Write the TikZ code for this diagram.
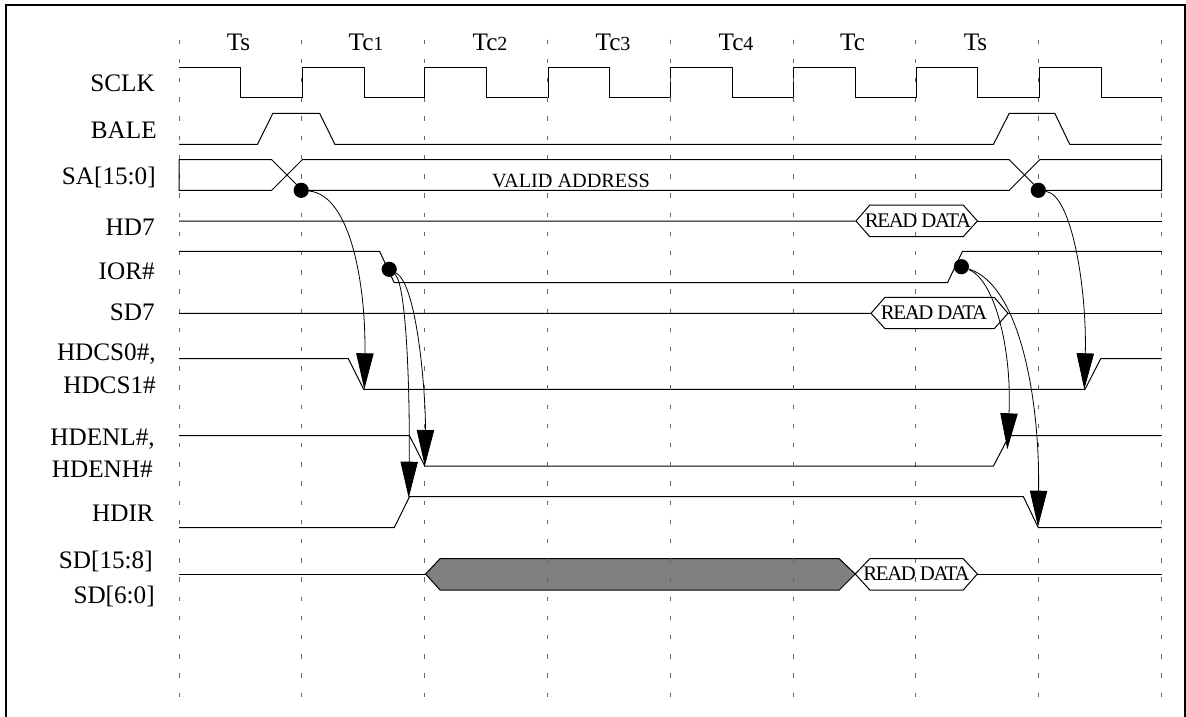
\documentclass[tikz,border=0pt]{standalone}
\usepackage{fontspec}
\setmainfont{Liberation Serif}
\usetikzlibrary{arrows.meta}
\tikzset{
  sig/.style={draw=black,line width=0.75pt,line join=miter},
  grid/.style={draw=black!60,line width=0.75pt,dash pattern=on 3.3pt off 11.1pt},
  dot/.style={circle,fill=black,inner sep=0pt,minimum size=11.4pt},
  lab/.style={anchor=base east,inner sep=0pt,font=\fontsize{18.9pt}{20pt}\selectfont},
  top/.style={anchor=base,inner sep=0pt,font=\fontsize{18.9pt}{20pt}\selectfont},
  data/.style={anchor=center,inner sep=0pt,font=\fontsize{15.2pt}{16pt}\selectfont},
  rd/.style={anchor=center,inner sep=0pt,font=\fontsize{15.6pt}{16pt}\selectfont\addfontfeature{LetterSpace=-6.5}},
  cur/.style={draw=black,line width=0.6pt,-{Triangle[length=27pt,width=13pt]}},
}
\newcommand{\sm}[1]{{\fontsize{15pt}{16pt}\selectfont #1}}
\begin{document}
\begin{tikzpicture}[x=0.75pt,y=-0.75pt]
\useasboundingbox (0,0) rectangle (1186,717);
% border
\draw[line width=1.5pt] (6,800) -- (6,5) -- (1185,5) -- (1185,800);
% time grid
\foreach \i in {0,...,8}
  \draw[grid] ({179+122.8*\i},39.7) -- ({179+122.8*\i},698);
% SCLK
\draw[sig] (179,67.3) -- (240.6,67.3) -- (240.6,98) -- (302.3,98) -- (302.3,67.3) -- (364,67.3) -- (364,98) -- (424.8,98) -- (424.8,67.3) -- (486.8,67.3) -- (486.8,98) -- (548,98) -- (548,67.3) -- (609.3,67.3) -- (609.3,98) -- (670.6,98) -- (670.6,67.3) -- (732.3,67.3) -- (732.3,98) -- (793.2,98) -- (793.2,67.3) -- (855.6,67.3) -- (855.6,98) -- (916.9,98) -- (916.9,67.3) -- (977.4,67.3) -- (977.4,98) -- (1039.8,98) -- (1039.8,67.3) -- (1101,67.3) -- (1101,98) -- (1161.7,98);
% BALE
\draw[sig] (179,144.3) -- (257.5,144.3) -- (272.9,113.3) -- (319.6,113.3) -- (334.9,144.3) -- (993.5,144.3) -- (1009.2,113.3) -- (1054.8,113.3) -- (1069.7,144.3) -- (1161.7,144.3);
% SA
\draw[sig] (179,190.3) -- (271.7,190.3) -- (302.3,159.7) -- (1009.2,159.7) -- (1039.8,190.3) -- (1161.7,190.3) -- (1161.7,159.7) -- (1039.8,159.7) -- (1009.2,190.3) -- (302.3,190.3) -- (271.7,159.7) -- (179,159.7) -- cycle;
% HD7
\draw[sig] (179,221) -- (856,221) -- (869.8,205) -- (963.2,205) -- (977.4,221) -- (963.2,236.7) -- (869.8,236.7) -- (856,221);
\draw[sig] (977.4,221) -- (1161.7,221);
% IOR
\draw[sig] (179,251.3) -- (379.6,251.3) -- (394.2,282.7) -- (947.5,282.7) -- (962.5,251.3) -- (1161.7,251.3);
% SD7
\draw[sig] (179,313.3) -- (871,313.3) -- (885,297.3) -- (994.2,297.3) -- (1008,313.3) -- (994.2,328.7) -- (885,328.7) -- (871,313.3);
\draw[sig] (1008,313.3) -- (1161.7,313.3);
% HDCS
\draw[sig] (179,358.7) -- (348.3,358.7) -- (363.6,389.3) -- (1085,389.3) -- (1100.7,358.7) -- (1161.7,358.7);
% HDEN
\draw[sig] (179,435.7) -- (409.5,435.7) -- (424.8,466) -- (993.5,466) -- (1009.2,435.7) -- (1161.7,435.7);
% HDIR
\draw[sig] (179,527.7) -- (394.2,527.7) -- (409.5,496.7) -- (1023.4,496.7) -- (1038.3,527.7) -- (1161.7,527.7);
% SD
\draw[sig,fill=black!50] (425.6,574) -- (440,558.7) -- (839.2,558.7) -- (855.2,574) -- (839.2,590) -- (440,590) -- cycle;
\draw[sig] (179,574) -- (425.6,574);
\draw[sig] (855.2,574) -- (869.8,558.7) -- (963.2,558.7) -- (977.4,574) -- (963.2,590) -- (869.8,590) -- cycle;
\draw[sig] (977.4,574) -- (1161.7,574);
% grid over grey band
\foreach \i in {3,4,5}
  \draw[grid] ({179+122.8*\i},39.7) -- ({179+122.8*\i},698);
% texts
\node[top] (t1) at (238.5,51) {Ts};
\node[top] (t2) at (366,51) {Tc\sm{1}};
\node[top] (t3) at (490,51) {Tc\sm{2}};
\node[top] (t4) at (613,51) {Tc\sm{3}};
\node[top] (t5) at (736,51) {Tc\sm{4}};
\node[top] (t6) at (852.5,51) {Tc};
\node[top] (t7) at (975.5,51) {Ts};
\node[lab] (l1) at (155,92) {SCLK};
\node[lab] (l2) at (157,138) {BALE};
\node[lab] (l3) at (156,184) {SA[15:0]};
\node[lab] (l4) at (155,235) {HD7};
\node[lab] (l5) at (155,279) {IOR\#};
\node[lab] (l6) at (155,320) {SD7};
\node[lab] (l7) at (156,360) {HDCS0\#,};
\node[lab] (l8) at (156,393) {HDCS1\#};
\node[lab] (l9) at (155,445) {HDENL\#,};
\node[lab] (l10) at (153,477) {HDENH\#};
\node[lab] (l11) at (154,521) {HDIR};
\node[lab] (l12) at (153,568) {SD[15:8]};
\node[lab] (l13) at (155,603) {SD[6:0]};
\node[data] (va) at (571,180.5) {VALID ADDRESS};
\node[rd] (d1) at (918,221) {READ DATA};
\node[rd] (d2) at (934,313) {READ DATA};
\node[rd] (d3) at (916.5,574) {READ DATA};
% dots and curves
\node[dot] (a) at (301.2,190.3) {};
\node[dot] (b) at (389.2,269.3) {};
\node[dot] (c) at (961.4,266.7) {};
\node[dot] (e) at (1038.3,190.3) {};
\coordinate (hcs1) at (364.3,389.3);
\coordinate (hen1) at (424.8,466);
\coordinate (hdir1) at (408.7,497.7);
\coordinate (hen2) at (1007.3,449.3);
\coordinate (hdir2) at (1038,526.7);
\coordinate (hcs2) at (1084.3,389.3);
\draw[cur] (a) .. controls (352,195) and (366,290) .. (hcs1);
\draw[cur] (b) .. controls (418,285) and (426,400) .. (hen1);
\draw[cur] (b) .. controls (407,285) and (410,400) .. (hdir1);
\draw[cur] (c) .. controls (995,280) and (1012,350) .. (hen2);
\draw[cur] (c) .. controls (1020,285) and (1040,400) .. (hdir2);
\draw[cur] (e) .. controls (1072,195) and (1087,290) .. (hcs2);
\end{tikzpicture}
\end{document}
